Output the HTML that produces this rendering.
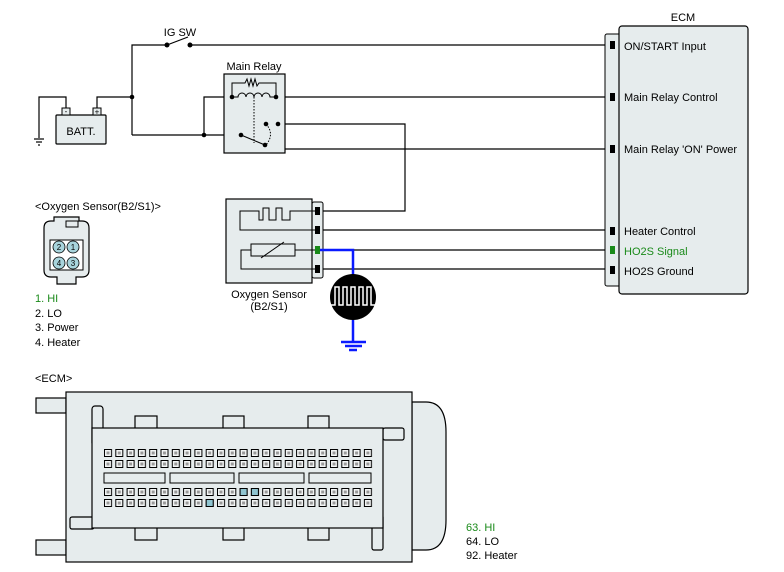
<!DOCTYPE html>
<html><head><meta charset="utf-8"><style>
html,body{margin:0;padding:0;background:#fff;}
svg{display:block;font-family:"Liberation Sans",Arial,sans-serif;}
</style></head><body>
<svg width="784" height="572" viewBox="0 0 784 572" xmlns="http://www.w3.org/2000/svg">
<defs>
<pattern id="pinsA" x="104" y="449" width="11.3" height="11" patternUnits="userSpaceOnUse">
<rect x="0.5" y="0.5" width="7" height="7" fill="#f4f6f6" stroke="#000" stroke-width="1"/>
<rect x="2.5" y="2.5" width="3" height="3" fill="#999"/>
</pattern>
<pattern id="pinsB" x="104" y="488" width="11.3" height="11" patternUnits="userSpaceOnUse">
<rect x="0.5" y="0.5" width="7" height="7" fill="#f4f6f6" stroke="#000" stroke-width="1"/>
<rect x="2.5" y="2.5" width="3" height="3" fill="#999"/>
</pattern>
</defs>
<g fill="none" stroke="#000" stroke-width="1.2">
<polyline points="132,135 132,45 167,45"/>
<line x1="167" y1="45" x2="188" y2="37"/>
<line x1="190" y1="45" x2="612" y2="45"/>
<polyline points="97,108 97,97 132,97"/>
<polyline points="66,108 66,97 39,97 39,138"/>
<line x1="34" y1="139" x2="44" y2="139"/><line x1="36" y1="142" x2="42" y2="142"/><line x1="38" y1="145" x2="40" y2="145"/>
<polyline points="132,135 241,135"/>
<polyline points="232,97 204,97 204,135"/>
<line x1="276" y1="97" x2="612" y2="97"/>
<polyline points="278,124 405,124 405,211 318,211"/>
<polyline points="278,124 278,149 612,149"/>
<line x1="320" y1="230" x2="612" y2="230"/>
<line x1="353" y1="250" x2="612" y2="250"/>
<line x1="320" y1="269" x2="612" y2="269"/>
</g>
<rect x="56" y="115" width="50" height="29" fill="#e6eced" stroke="#000" stroke-width="1.2" rx="1"/>
<rect x="62" y="108" width="8" height="7" fill="#e6eced" stroke="#000"/>
<rect x="93" y="108" width="8" height="7" fill="#e6eced" stroke="#000"/>
<text x="66" y="114" font-size="8" text-anchor="middle">-</text>
<text x="97" y="114.5" font-size="8" text-anchor="middle">+</text>
<text x="81" y="135" font-size="11" text-anchor="middle">BATT.</text>
<text x="180" y="36" font-size="11" text-anchor="middle">IG SW</text>
<circle cx="167" cy="45" r="2.5"/><circle cx="190" cy="45" r="2.5"/>
<text x="254" y="70" font-size="11" text-anchor="middle">Main Relay</text>
<rect x="224" y="74" width="61" height="79" fill="#e6eced" stroke="#000" stroke-width="1.2"/>
<g fill="none" stroke="#000" stroke-width="1">
<polyline points="232,97 232,83 245,83 247,79 249,86 251,79 253,86 255,79 257,86 259,83 276,83 276,97"/>
<path d="M232,97 h6 a4,4 0 0 1 8,0 a4,4 0 0 1 8,0 a4,4 0 0 1 8,0 a4,4 0 0 1 8,0 h6"/>
<line x1="254" y1="97" x2="254" y2="143" stroke-dasharray="1.5,1.5"/>
<line x1="241" y1="135" x2="265" y2="145"/>
<path d="M266,124 q9,10 0,21" stroke-dasharray="1.5,1.5"/>
</g>
<g fill="#000">
<circle cx="232" cy="97" r="2.3"/><circle cx="276" cy="97" r="2.3"/>
<circle cx="266" cy="124" r="2.3"/><circle cx="278" cy="124" r="2.3"/>
<circle cx="241" cy="135" r="2.3"/><circle cx="265" cy="145" r="2.3"/>
<circle cx="204" cy="135" r="2.3"/><circle cx="132" cy="97" r="2.3"/>
</g>
<rect x="312" y="202" width="11" height="76" fill="#e6eced" stroke="#000" rx="2"/>
<rect x="226" y="199" width="86" height="84" fill="#e6eced" stroke="#000" stroke-width="1.2"/>
<g fill="none" stroke="#000" stroke-width="1">
<polyline points="318,211 290,211 290,220 282,220 282,208 276,208 276,220 269,220 269,208 263,208 263,220 259,220 259,211 240,211 240,230 318,230"/>
<polyline points="318,250 295,250"/>
<rect x="251" y="244" width="44" height="12"/>
<line x1="261" y1="258" x2="284" y2="242"/>
<polyline points="251,250 241,250 241,269 318,269"/>
</g>
<rect x="315" y="207" width="5" height="8" fill="#000"/>
<rect x="315" y="226" width="5" height="8" fill="#000"/>
<rect x="315" y="246" width="5" height="8" fill="#1a8a1a"/>
<rect x="315" y="265" width="5" height="8" fill="#000"/>
<text x="269" y="298" font-size="11" text-anchor="middle">Oxygen Sensor</text>
<text x="269" y="310" font-size="11" text-anchor="middle">(B2/S1)</text>
<g stroke="#0a1aff" stroke-width="2.5" fill="none">
<polyline points="320,250 353,250 353,276"/>
<line x1="353" y1="318" x2="353" y2="342"/>
<line x1="341" y1="342" x2="366" y2="342"/><line x1="345" y1="346" x2="362" y2="346"/><line x1="349" y1="350" x2="357" y2="350"/>
</g>
<circle cx="353" cy="297" r="23" fill="#000"/>
<polyline points="331,305 335,305 335,287 339,287 339,305 343,305 343,287 347,287 347,305 351,305 351,287 355,287 355,305 359,305 359,287 363,287 363,305 367,305 367,287 371,287 371,305 375,305" fill="none" stroke="#fff" stroke-width="1.5"/>
<text x="683" y="21" font-size="11" text-anchor="middle">ECM</text>
<rect x="605" y="34" width="16" height="252" fill="#e6eced" stroke="#000" rx="2"/>
<rect x="619" y="26" width="129" height="268" fill="#e6eced" stroke="#000" stroke-width="1.2" rx="3"/>
<g fill="#000">
<rect x="610" y="41" width="5" height="8"/><rect x="610" y="93" width="5" height="8"/>
<rect x="610" y="145" width="5" height="8"/><rect x="610" y="227" width="5" height="8"/>
<rect x="610" y="246" width="5" height="8" fill="#1a8a1a"/><rect x="610" y="266" width="5" height="8"/>
</g>
<g font-size="11">
<text x="624" y="50">ON/START Input</text>
<text x="624" y="101">Main Relay Control</text>
<text x="624" y="153">Main Relay 'ON' Power</text>
<text x="624" y="235">Heater Control</text>
<text x="624" y="255" fill="#1a8a1a">HO2S  Signal</text>
<text x="624" y="275">HO2S  Ground</text>
</g>
<text x="35" y="210" font-size="11">&lt;Oxygen Sensor(B2/S1)&gt;</text>
<path d="M44,228 q0,-7 7,-7 h3 v-4 h25 v4 h3 q7,0 7,7 v42 q0,7 -7,7 h-6 v7 h-19 v-7 h-6 q-7,0 -7,-7 z" fill="#e6eced" stroke="#000" stroke-width="1.2"/>
<rect x="66" y="221" width="12" height="6" fill="none" stroke="#000"/>
<rect x="50" y="240" width="33" height="30" fill="#fff" stroke="#000"/>
<g fill="#a8d4dc" stroke="#000" stroke-width="0.8">
<circle cx="59" cy="247" r="6"/><circle cx="73" cy="247" r="6"/><circle cx="59" cy="263" r="6"/><circle cx="73" cy="263" r="6"/>
</g>
<g font-size="8" text-anchor="middle"><text x="59" y="250">2</text><text x="73" y="250">1</text><text x="59" y="266">4</text><text x="73" y="266">3</text></g>
<g font-size="11">
<text x="35" y="302" fill="#1a8a1a">1. HI</text>
<text x="35" y="317">2. LO</text>
<text x="35" y="331">3. Power</text>
<text x="35" y="346">4. Heater</text>
<text x="35" y="382">&lt;ECM&gt;</text>
<text x="466" y="531" fill="#1a8a1a">63. HI</text>
<text x="466" y="545">64. LO</text>
<text x="466" y="559">92. Heater</text>
</g>
<g fill="#e6eced" stroke="#000" stroke-width="1.2">
<path d="M412,402 h14 q20,0 20,30 v88 q0,30 -20,30 h-14 z"/>
<rect x="36" y="398" width="30" height="15"/>
<rect x="36" y="540" width="30" height="15"/>
<rect x="66" y="392" width="346" height="170"/>
<rect x="372" y="515" width="11" height="35" rx="2"/>
<rect x="383" y="428" width="21" height="12" rx="2"/>
<rect x="70" y="517" width="24" height="12" rx="2"/>
<rect x="92" y="406" width="11" height="40" rx="3"/>
<rect x="135" y="416" width="22" height="20"/><rect x="223" y="416" width="21" height="20"/><rect x="308" y="416" width="21" height="20"/>
<rect x="135" y="520" width="22" height="20"/><rect x="223" y="520" width="21" height="20"/><rect x="308" y="520" width="21" height="20"/>
<rect x="92" y="428" width="291" height="100"/>
</g>
<rect x="104" y="449" width="271" height="19" fill="url(#pinsA)"/>
<rect x="104" y="488" width="271" height="19" fill="url(#pinsB)"/>
<g fill="#8fc4d0" stroke="#000"><rect x="240.1" y="488.5" width="7" height="7"/><rect x="251.4" y="488.5" width="7" height="7"/><rect x="206.2" y="499.5" width="7" height="7"/></g>
<g fill="none" stroke="#000" stroke-width="1">
<rect x="104" y="473" width="61" height="10"/><rect x="170" y="473" width="64" height="10"/>
<rect x="239" y="473" width="65" height="10"/><rect x="309" y="473" width="62" height="10"/>
</g>
</svg>
</body></html>
